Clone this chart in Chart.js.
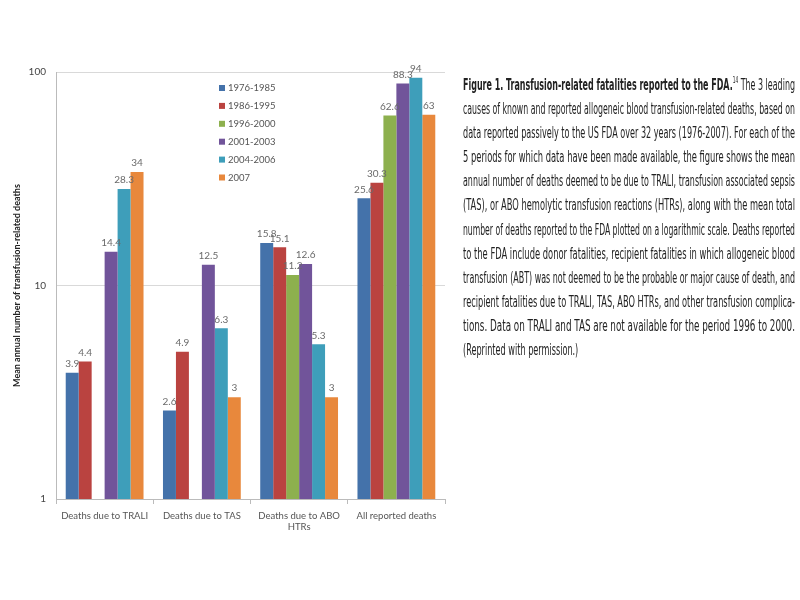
<!DOCTYPE html>
<html><head><meta charset="utf-8">
<script src="https://cdn.jsdelivr.net/npm/chart.js@4.4.1/dist/chart.umd.min.js"></script>
<style>
html,body{margin:0;padding:0;background:#fff;}
#wrap{position:relative;width:800px;height:600px;overflow:hidden;}
#c{position:absolute;left:0;top:0;}
#cap{position:absolute;left:463px;top:73px;width:332px;font-family:"Liberation Sans Narrow","Arial Narrow","DejaVu Sans Condensed",sans-serif;font-size:15px;color:#222;}
.ln{height:24.1px;line-height:24.1px;position:relative;}
.ln span.t{white-space:nowrap;display:inline-block;transform-origin:0 50%;}
sup{font-size:8px;line-height:0;vertical-align:7px;}
</style></head>
<body><div id="wrap"><canvas id="c" width="800" height="600"></canvas><div id="cap"></div></div>
<script>
const categories = ["Deaths due to TRALI", "Deaths due to TAS", ["Deaths due to ABO", "HTRs"], "All reported deaths"];
const periods = ["1976-1985", "1986-1995", "1996-2000", "2001-2003", "2004-2006", "2007"];
const s1976_1985 = [3.9, 2.6, 15.8, 25.6];
const s1986_1995 = [4.4, 4.9, 15.1, 30.3];
const s1996_2000 = [null, null, 11.2, 62.6];
const s2001_2003 = [14.4, 12.5, 12.6, 88.3];
const s2004_2006 = [28.3, 6.3, 5.3, 94];
const s2007 = [34, 3, 3, 63];
const yTicks = [1, 10, 100];
const colors = ["#4472AA", "#BA4340", "#8DB04E", "#71549A", "#3E9EBA", "#E8883C"];
const seriesValues = [s1976_1985, s1986_1995, s1996_2000, s2001_2003, s2004_2006, s2007];

const captionLines = [
 '<b>Figure 1. Transfusion-related fatalities reported to the FDA.</b><sup>14</sup> The 3 leading',
 'causes of known and reported allogeneic blood transfusion-related deaths, based on',
 'data reported passively to the US FDA over 32 years (1976-2007). For each of the',
 '5 periods for which data have been made available, the figure shows the mean',
 'annual number of deaths deemed to be due to TRALI, transfusion associated sepsis',
 '(TAS), or ABO hemolytic transfusion reactions (HTRs), along with the mean total',
 'number of deaths reported to the FDA plotted on a logarithmic scale. Deaths reported',
 'to the FDA include donor fatalities, recipient fatalities in which allogeneic blood',
 'transfusion (ABT) was not deemed to be the probable or major cause of death, and',
 'recipient fatalities due to TRALI, TAS, ABO HTRs, and other transfusion complica-',
 'tions. Data on TRALI and TAS are not available for the period 1996 to 2000.',
 '(Reprinted with permission.)'
];
const cap = document.getElementById('cap');
const spans = [];
captionLines.forEach(h => {
  const d = document.createElement('div'); d.className = 'ln';
  const s = document.createElement('span'); s.className = 't'; s.innerHTML = h;
  d.appendChild(s); cap.appendChild(d); spans.push(s);
});
const target = 332;
let scales = [];
spans.forEach((s, i) => {
  if (i < spans.length - 1) {
    const w = s.getBoundingClientRect().width;
    const k = target / w; scales.push(k);
    s.style.transform = 'scaleX(' + k + ')';
  }
});
const avg = scales.reduce((a, b) => a + b, 0) / scales.length;
spans[spans.length - 1].style.transform = 'scaleX(' + avg + ')';

const valueLabels = {
  id: 'valueLabels',
  afterDatasetsDraw(chart) {
    const ctx = chart.ctx; ctx.save();
    ctx.font = '10px Lato, sans-serif'; ctx.fillStyle = '#6a6a6a';
    ctx.textAlign = 'center'; ctx.textBaseline = 'bottom';
    chart.data.datasets.forEach((ds, i) => {
      const meta = chart.getDatasetMeta(i);
      meta.data.forEach((bar, j) => {
        const v = ds.data[j]; if (v == null) return;
        ctx.fillText(String(v), bar.x, bar.y - 4);
      });
    });
    ctx.restore();
  }
};
const innerLegend = {
  id: 'innerLegend',
  afterDraw(chart) {
    const ctx = chart.ctx; ctx.save();
    ctx.font = '9.5px Lato, sans-serif'; ctx.textBaseline = 'middle'; ctx.textAlign = 'left';
    chart.data.datasets.forEach((ds, i) => {
      const y = 88 + i * 17.9;
      ctx.fillStyle = ds.backgroundColor;
      ctx.fillRect(219, y - 3, 6, 6);
      ctx.fillStyle = '#555';
      ctx.fillText(ds.label, 228, y);
    });
    ctx.restore();
  }
};

new Chart(document.getElementById('c'), {
  type: 'bar',
  data: {
    labels: categories,
    datasets: periods.map((p, i) => ({
      label: p, data: seriesValues[i], backgroundColor: colors[i],
      categoryPercentage: 0.8, barPercentage: 1.0
    }))
  },
  options: {
    responsive: false, animation: false,
    layout: { padding: { left: 0, right: 355, top: 72, bottom: 61 } },
    plugins: { legend: { display: false }, tooltip: { enabled: false } },
    scales: {
      x: {
        grid: { drawOnChartArea: false, drawTicks: true, tickLength: 5, color: '#bbb', offset: true },
        border: { color: '#bbb' },
        ticks: { font: { family: 'Lato', size: 9.5 }, color: '#555', padding: 6, maxRotation: 0, autoSkip: false },
        afterFit(s) { s.height = 40; }
      },
      y: {
        type: 'logarithmic', min: 1, max: 100,
        afterBuildTicks(s) { s.ticks = yTicks.map(v => ({ value: v })); },
        grid: { color: '#d9d9d9', drawTicks: false },
        border: { color: '#bbb' },
        ticks: { font: { family: 'Lato', size: 10 }, color: '#444', padding: 10, callback: v => String(v) },
        title: { display: true, text: 'Mean annual number of transfusion-related deaths',
          font: { family: 'Lato', size: 9, weight: 'bold' }, color: '#222', padding: { top: 12, bottom: 0 } },
        afterFit(s) { s.width = 56; }
      }
    }
  },
  plugins: [valueLabels, innerLegend]
});
</script></body></html>
